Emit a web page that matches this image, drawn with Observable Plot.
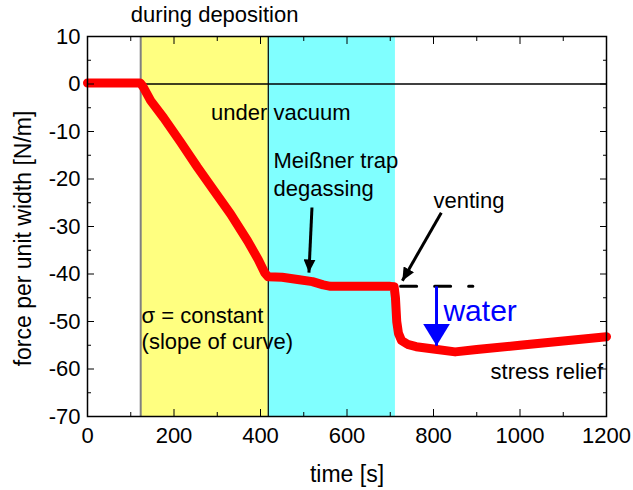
<!DOCTYPE html>
<html><head><meta charset="utf-8">
<script src="https://cdn.jsdelivr.net/npm/d3@7"></script>
<script src="https://cdn.jsdelivr.net/npm/@observablehq/plot@0.6"></script>
<style>body{margin:0;background:#fff;}</style>
</head><body><div id="chart"></div>
<script>
// measured curve: time [s] and force per unit width [N/m]
const time  = [0, 60, 122, 128, 146, 176, 215, 254, 292, 331, 370, 395, 410, 418, 450, 490, 520, 545, 562, 600, 650, 700, 709, 712, 715, 719, 726, 740, 760, 800, 850, 900, 1000, 1100, 1200];
const force = [0.2, 0.2, 0.2, -0.5, -3.5, -7.1, -12.2, -17.5, -22.4, -27.4, -33.0, -37.0, -39.8, -40.6, -40.7, -41.2, -41.6, -42.3, -42.6, -42.6, -42.6, -42.6, -42.7, -45, -50, -52.5, -54, -54.8, -55.3, -55.8, -56.4, -55.9, -55.0, -54.1, -53.2];

// axis ticks
const xMajorTicks = [0, 200, 400, 600, 800, 1000, 1200];
const xMinorTicks = [100, 300, 500, 700, 900, 1100];
const yMajorTicks = [10, 0, -10, -20, -30, -40, -50, -60, -70];
const yMinorTicks = [5, -5, -15, -25, -35, -45, -55, -65];

// phases
const phaseStart = [123, 418];
const phaseEnd = [418, 712];
const phaseColor = ["#ffff80", "#80ffff"];

// venting level (dashed)
const ventX = [724, 891];
const ventLevel = -42.6;

// annotations
const centerNoteText = ["during deposition", "under vacuum"];
const centerNoteX = [294, 447];
const centerNoteY = [14.6, -6.2];
const leftNoteText = ["Meißner trap", "degassing", "venting", "σ = constant", "(slope of curve)", "stress relief"];
const leftNoteX = [430, 430, 800, 125, 125, 932];
const leftNoteY = [-16.3, -22.0, -24.6, -48.8, -54.3, -60.6];
const waterText = ["water"];
const waterX = [823];
const waterY = [-47.8];

// arrows (from -> to)
const arrowX1 = [519, 818];
const arrowY1 = [-26.0, -27.1];
const arrowX2 = [512, 728];
const arrowY2 = [-39.7, -41.4];
const waterArrowX = [807];
const waterArrowY1 = [-42.6];
const waterArrowY2 = [-55.1];

const curve = time.map((t, i) => ({t, f: force[i]}));
const vent = ventX.map(x => ({x, y: ventLevel}));
const arrows = arrowX1.map((x1, i) => ({x1, y1: arrowY1[i], x2: arrowX2[i], y2: arrowY2[i]}));
const waterArrow = waterArrowX.map((x, i) => ({x, y1: waterArrowY1[i], y2: waterArrowY2[i]}));
const centerNotes = centerNoteText.map((text, i) => ({text, x: centerNoteX[i], y: centerNoteY[i]}));
const leftNotes = leftNoteText.map((text, i) => ({text, x: leftNoteX[i], y: leftNoteY[i]}));
const waterNote = waterText.map((text, i) => ({text, x: waterX[i], y: waterY[i]}));

function head(len, wid) {
  return (color) => {
    const ns = "http://www.w3.org/2000/svg";
    const m = document.createElementNS(ns, "marker");
    m.setAttribute("viewBox", `0 ${-wid / 2} ${len} ${wid}`);
    m.setAttribute("markerWidth", len);
    m.setAttribute("markerHeight", wid);
    m.setAttribute("refX", len);
    m.setAttribute("refY", 0);
    m.setAttribute("orient", "auto");
    m.setAttribute("markerUnits", "userSpaceOnUse");
    const p = document.createElementNS(ns, "path");
    p.setAttribute("d", `M0,${-wid / 2}L${len},0L0,${wid / 2}Z`);
    p.setAttribute("fill", color);
    p.setAttribute("stroke", "none");
    m.appendChild(p);
    return m;
  };
}

const font = "Liberation Sans, Arial, sans-serif";
const fmt = d => String(d);
const noLabel = () => "";

const chart = Plot.plot({
  width: 633, height: 490,
  marginTop: 36, marginBottom: 74, marginLeft: 87, marginRight: 27,
  x: {domain: [0, 1200]},
  y: {domain: [-70, 10]},
  style: {fontFamily: font, background: "#fff", overflow: "visible", color: "black"},
  marks: [
    Plot.rect([{x1: phaseStart[0], x2: phaseEnd[0]}], {x1: "x1", x2: "x2", fill: phaseColor[0]}),
    Plot.rect([{x1: phaseStart[1], x2: phaseEnd[1]}], {x1: "x1", x2: "x2", fill: phaseColor[1]}),
    Plot.ruleX([phaseStart[0]], {stroke: "#808080", strokeWidth: 2}),
    Plot.ruleX([phaseEnd[0]], {stroke: "black", strokeWidth: 1.2}),
    Plot.ruleY([0], {stroke: "black", strokeWidth: 1.5}),
    Plot.line(curve, {x: "t", y: "f", stroke: "#ff0000", strokeWidth: 9, strokeLinejoin: "round"}),
    Plot.line(vent, {x: "x", y: "y", stroke: "black", strokeWidth: 3, strokeDasharray: "16,18"}),
    Plot.link(arrows, {x1: "x1", y1: "y1", x2: "x2", y2: "y2", stroke: "black", strokeWidth: 3, markerEnd: head(13, 12)}),
    Plot.link(waterArrow, {x1: "x", x2: "x", y1: "y1", y2: "y2", stroke: "#0000ff", strokeWidth: 3, markerEnd: head(22, 27)}),
    Plot.text(centerNotes, {x: "x", y: "y", text: "text", fontSize: 22, fill: "black", textAnchor: "middle", lineAnchor: "middle", fontFamily: font}),
    Plot.text(leftNotes, {x: "x", y: "y", text: "text", fontSize: 22, fill: "black", textAnchor: "start", lineAnchor: "middle", fontFamily: font}),
    Plot.text(waterNote, {x: "x", y: "y", text: "text", fontSize: 30, fill: "#0000ff", textAnchor: "start", lineAnchor: "middle", fontFamily: font}),
    Plot.frame({stroke: "black", strokeWidth: 1.5}),
    Plot.axisX(xMajorTicks, {anchor: "bottom", tickSize: -7, tickFormat: noLabel, label: null}),
    Plot.axisX(xMinorTicks, {anchor: "bottom", tickSize: -4, tickFormat: noLabel, label: null}),
    Plot.axisX(xMajorTicks, {anchor: "top", tickSize: -7, tickFormat: noLabel, label: null}),
    Plot.axisX(xMinorTicks, {anchor: "top", tickSize: -4, tickFormat: noLabel, label: null}),
    Plot.axisY(yMajorTicks, {anchor: "left", tickSize: -7, tickFormat: noLabel, label: null}),
    Plot.axisY(yMinorTicks, {anchor: "left", tickSize: -4, tickFormat: noLabel, label: null}),
    Plot.axisY(yMajorTicks, {anchor: "right", tickSize: -7, tickFormat: noLabel, label: null}),
    Plot.axisY(yMinorTicks, {anchor: "right", tickSize: -4, tickFormat: noLabel, label: null}),
    Plot.axisX(xMajorTicks, {anchor: "bottom", tickSize: 0, tickPadding: 11, tickFormat: fmt, fontSize: 22, label: null, fontFamily: font}),
    Plot.axisY(yMajorTicks, {anchor: "left", tickSize: 0, tickPadding: 7, tickFormat: fmt, fontSize: 22, label: null, fontFamily: font}),
    Plot.text(["force per unit width [N/m]"], {frameAnchor: "left", rotate: -90, dx: -64, dy: 12, fontSize: 23, fill: "black", textAnchor: "middle", lineAnchor: "middle", fontFamily: font}),
    Plot.text(["time [s]"], {frameAnchor: "bottom", dy: 58, fontSize: 23, fill: "black", textAnchor: "middle", lineAnchor: "middle", fontFamily: font})
  ]
});
document.getElementById("chart").appendChild(chart);
</script>
</body></html>
